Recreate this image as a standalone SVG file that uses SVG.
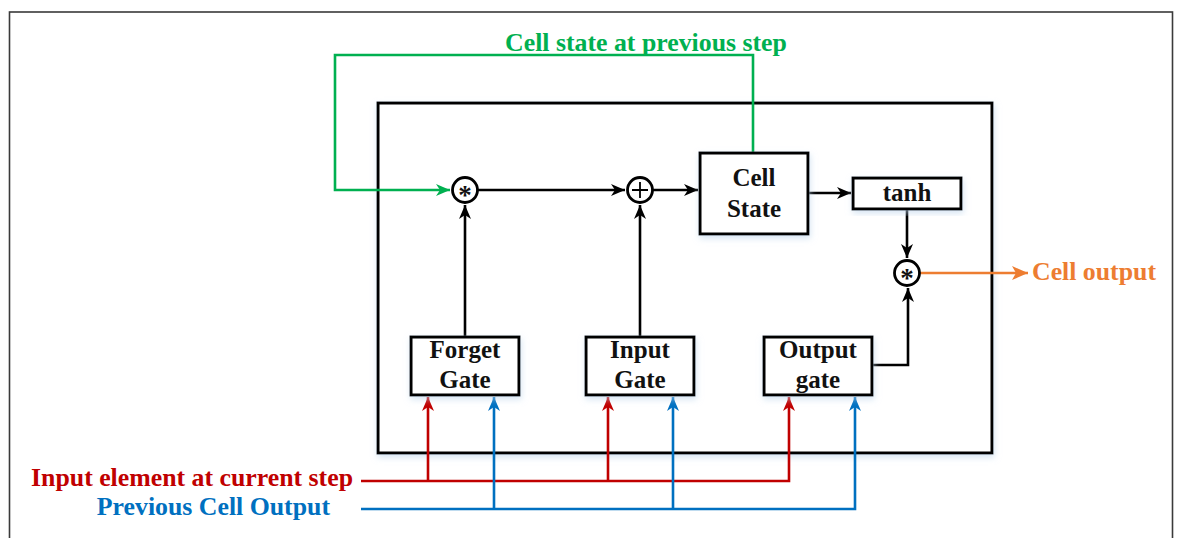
<svg xmlns="http://www.w3.org/2000/svg" width="1177" height="538" viewBox="0 0 1177 538">
<style>
text{font-family:"Liberation Serif","Times New Roman",serif;font-weight:bold;font-size:25px}
.ext{font-size:25.8px}
.lbl{fill:#111;text-anchor:middle}
.ast{fill:#111;text-anchor:middle;font-size:27px}
.box{fill:#fff;stroke:#000;stroke-width:3}
.op{fill:#fff;stroke:#000;stroke-width:2.8}
.k{fill:none;stroke:#000;stroke-width:2.6}
.g{fill:none;stroke:#00B050;stroke-width:2.6}
.r{fill:none;stroke:#C00000;stroke-width:2.6}
.b{fill:none;stroke:#0070C0;stroke-width:2.6}
.o{fill:none;stroke:#ED7D31;stroke-width:2.6}
</style>
<defs>
<filter id="sh" x="-20%" y="-20%" width="140%" height="140%"><feDropShadow dx="1" dy="3" stdDeviation="3" flood-color="#bcd4ec" flood-opacity="0.6"/></filter>
<marker id="ak" markerUnits="userSpaceOnUse" markerWidth="16" markerHeight="12" refX="14" refY="6" orient="auto"><path d="M0,0 L14,6 L0,12 L4,6 z" fill="#000"/></marker>
<marker id="ag" markerUnits="userSpaceOnUse" markerWidth="16" markerHeight="12" refX="14" refY="6" orient="auto"><path d="M0,0 L14,6 L0,12 L4,6 z" fill="#00B050"/></marker>
<marker id="ar" markerUnits="userSpaceOnUse" markerWidth="16" markerHeight="12" refX="14" refY="6" orient="auto"><path d="M0,0 L14,6 L0,12 L4,6 z" fill="#C00000"/></marker>
<marker id="ab" markerUnits="userSpaceOnUse" markerWidth="16" markerHeight="12" refX="14" refY="6" orient="auto"><path d="M0,0 L14,6 L0,12 L4,6 z" fill="#0070C0"/></marker>
<marker id="ao" markerUnits="userSpaceOnUse" markerWidth="18" markerHeight="14" refX="16" refY="7" orient="auto"><path d="M0,0 L16,7 L0,14 L4,7 z" fill="#ED7D31"/></marker>
</defs>
<rect x="0" y="0" width="1177" height="538" fill="#fff"/>
<rect id="frame" x="9.5" y="12" width="1163" height="545" fill="none" stroke="#3a3a3a" stroke-width="1.6"/>
<g id="lstm-cell"><rect x="378" y="103" width="614" height="350" class="box" filter="url(#sh)"/></g>
<g id="connectors">
<path class="g" d="M753,152 V55 H335 V190 H450" marker-end="url(#ag)"/>
<path class="k" d="M478,190 H625" marker-end="url(#ak)"/>
<path class="k" d="M653,190 H698" marker-end="url(#ak)"/>
<path class="k" d="M808,193 H851" marker-end="url(#ak)"/>
<path class="k" d="M907,209 V258" marker-end="url(#ak)"/>
<path class="k" d="M465,337 V205" marker-end="url(#ak)"/>
<path class="k" d="M640,337 V205" marker-end="url(#ak)"/>
<path class="k" d="M872,365 H908 V288" marker-end="url(#ak)"/>
<path class="o" d="M920,273 H1028" marker-end="url(#ao)"/>
<path class="r" d="M361,481 H789 V397" marker-end="url(#ar)"/>
<path class="r" d="M428,481 V397" marker-end="url(#ar)"/>
<path class="r" d="M608,481 V397" marker-end="url(#ar)"/>
<path class="b" d="M361,509 H855 V397" marker-end="url(#ab)"/>
<path class="b" d="M494,509 V397" marker-end="url(#ab)"/>
<path class="b" d="M673,509 V397" marker-end="url(#ab)"/>
</g>
<g id="mul-forget"><circle cx="465" cy="190" r="12.5" class="op"/><text x="465" y="204" class="ast">*</text></g>
<g id="add"><circle cx="640" cy="190" r="12.5" class="op"/><path d="M640,182 V198 M632,190 H648" stroke="#000" stroke-width="1.8"/></g>
<g id="mul-output"><circle cx="907" cy="273" r="12.5" class="op"/><text x="907" y="287" class="ast">*</text></g>
<g id="cell-state"><rect x="700" y="153" width="108" height="81" class="box" filter="url(#sh)"/><text x="754" y="186" class="lbl">Cell</text><text x="754" y="217" class="lbl">State</text></g>
<g id="tanh"><rect x="853" y="178" width="108" height="31" class="box" filter="url(#sh)"/><text x="907" y="201" class="lbl">tanh</text></g>
<g id="forget-gate"><rect x="411" y="337" width="108" height="58" class="box" filter="url(#sh)"/><text x="465" y="358" class="lbl">Forget</text><text x="465" y="388" class="lbl">Gate</text></g>
<g id="input-gate"><rect x="586" y="337" width="108" height="58" class="box" filter="url(#sh)"/><text x="640" y="358" class="lbl">Input</text><text x="640" y="388" class="lbl">Gate</text></g>
<g id="output-gate"><rect x="764" y="337" width="108" height="58" class="box" filter="url(#sh)"/><text x="818" y="358" class="lbl">Output</text><text x="818" y="388" class="lbl">gate</text></g>
<g id="labels">
<text x="646" y="51" text-anchor="middle" fill="#00B050" class="ext">Cell state at previous step</text>
<text x="1032" y="280" fill="#ED7D31" class="ext">Cell output</text>
<text x="353" y="486" text-anchor="end" fill="#C00000" class="ext">Input element at current step</text>
<text x="330" y="515" text-anchor="end" fill="#0070C0" class="ext">Previous Cell Output</text>
</g>
</svg>
